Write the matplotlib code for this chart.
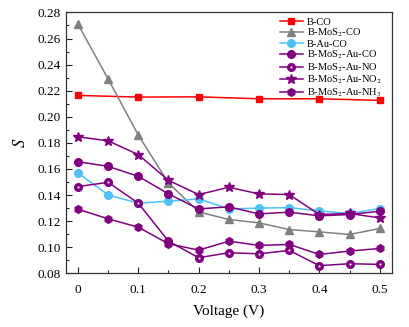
import matplotlib
matplotlib.use("Agg")
import matplotlib.pyplot as plt
from matplotlib.ticker import MultipleLocator, FixedFormatter, FixedLocator
from matplotlib.legend_handler import HandlerTuple

# --------------------------------------------------------
# Sensitivity S vs bias voltage for several gas/structure combos
# --------------------------------------------------------

voltage = [0, 0.05, 0.1, 0.15, 0.2, 0.25, 0.3, 0.35, 0.4, 0.45, 0.5]
voltage_bco = [0, 0.1, 0.2, 0.3, 0.4, 0.5]

s_b_co = [0.2164, 0.2151, 0.2153, 0.2138, 0.2138, 0.2126]
s_mos2_co = [0.271, 0.229, 0.186, 0.1493, 0.1271, 0.1213, 0.1187, 0.1136, 0.1118, 0.1098, 0.1144]
s_au_co = [0.157, 0.1401, 0.1338, 0.1353, 0.1371, 0.1294, 0.130, 0.1304, 0.1279, 0.1259, 0.1297]
s_mos2_au_co = [0.1656, 0.162, 0.1544, 0.1409, 0.1294, 0.131, 0.1256, 0.1269, 0.1241, 0.1251, 0.1276]
s_mos2_au_no = [0.1465, 0.1498, 0.1338, 0.1047, 0.092, 0.0958, 0.095, 0.0976, 0.0859, 0.0874, 0.0869]
s_mos2_au_no2 = [0.1847, 0.1816, 0.171, 0.1513, 0.1404, 0.146, 0.1409, 0.1404, 0.1251, 0.1259, 0.1225]
s_mos2_au_nh3 = [0.1292, 0.1218, 0.1154, 0.1027, 0.0978, 0.1047, 0.1014, 0.1022, 0.0945, 0.0971, 0.0991]

labels = ["B-CO", "B-MoS$_2$-CO", "B-Au-CO", "B-MoS$_2$-Au-CO",
          "B-MoS$_2$-Au-NO", "B-MoS$_2$-Au-NO$_2$", "B-MoS$_2$-Au-NH$_3$"]

x_ticks = [0, 0.1, 0.2, 0.3, 0.4, 0.5]
x_tick_labels = ["0", "0.1", "0.2", "0.3", "0.4", "0.5"]

plt.rcParams["font.family"] = ["Liberation Serif", "DejaVu Serif"]
plt.rcParams["mathtext.fontset"] = "stix"

PURPLE = "#800080"


def main():
    fig = plt.figure(figsize=(4.09, 3.27), dpi=100)
    ax = fig.add_axes([0.161, 0.164, 0.797, 0.798])

    kw = dict(lw=1.1, ms=5.5)
    h1, = ax.plot(voltage_bco, s_b_co, "s-", color="red", lw=1.1, ms=5)
    h2, = ax.plot(voltage, s_mos2_co, "^-", color="#808080", **kw)
    h3, = ax.plot(voltage, s_au_co, "o-", color="#4fc1f5", **kw)
    h4, = ax.plot(voltage, s_mos2_au_co, "o-", color=PURPLE, **kw)
    h5, = ax.plot(voltage, s_mos2_au_no, "o-", color=PURPLE, **kw)
    # small white dot in the middle of the NO markers
    h5b, = ax.plot(voltage, s_mos2_au_no, "o", color="#f0e6f0", ms=1.6, mew=0)
    h6, = ax.plot(voltage, s_mos2_au_no2, "*-", color=PURPLE, lw=1.1, ms=7.5)
    h7, = ax.plot(voltage, s_mos2_au_nh3, "h-", color=PURPLE, **kw)

    ax.set_xlim(-0.02, 0.52)
    ax.set_ylim(0.08, 0.28)
    ax.xaxis.set_major_locator(FixedLocator(x_ticks))
    ax.xaxis.set_major_formatter(FixedFormatter(x_tick_labels))
    ax.xaxis.set_minor_locator(MultipleLocator(0.05))
    ax.yaxis.set_major_locator(MultipleLocator(0.02))
    ax.yaxis.set_minor_locator(MultipleLocator(0.01))
    ax.yaxis.set_major_formatter(plt.FormatStrFormatter("%.2f"))

    ax.tick_params(which="both", direction="in", top=False, right=False,
                   labelsize=9.5, color="#222222")
    ax.tick_params(which="major", length=4, width=0.8)
    ax.tick_params(which="minor", length=2, width=0.8)
    ax.tick_params(axis="x", pad=8)
    for sp in ax.spines.values():
        sp.set_linewidth(0.9)
        sp.set_color("#333333")

    ax.set_xlabel("Voltage (V)", fontsize=11, labelpad=6)
    ax.set_ylabel("$S$", fontsize=12, labelpad=6)

    handles = [h1, h2, h3, h4, (h5, h5b), h6, h7]
    ax.legend(handles, labels, loc="upper right", frameon=False, fontsize=7.5,
              handlelength=2.3, handletextpad=0.3, labelspacing=0.0,
              borderaxespad=0.1, bbox_to_anchor=(0.985, 1.0),
              handler_map={tuple: HandlerTuple(ndivide=1)})

    fig.savefig("out.png", dpi=100)


if __name__ == "__main__":
    main()
